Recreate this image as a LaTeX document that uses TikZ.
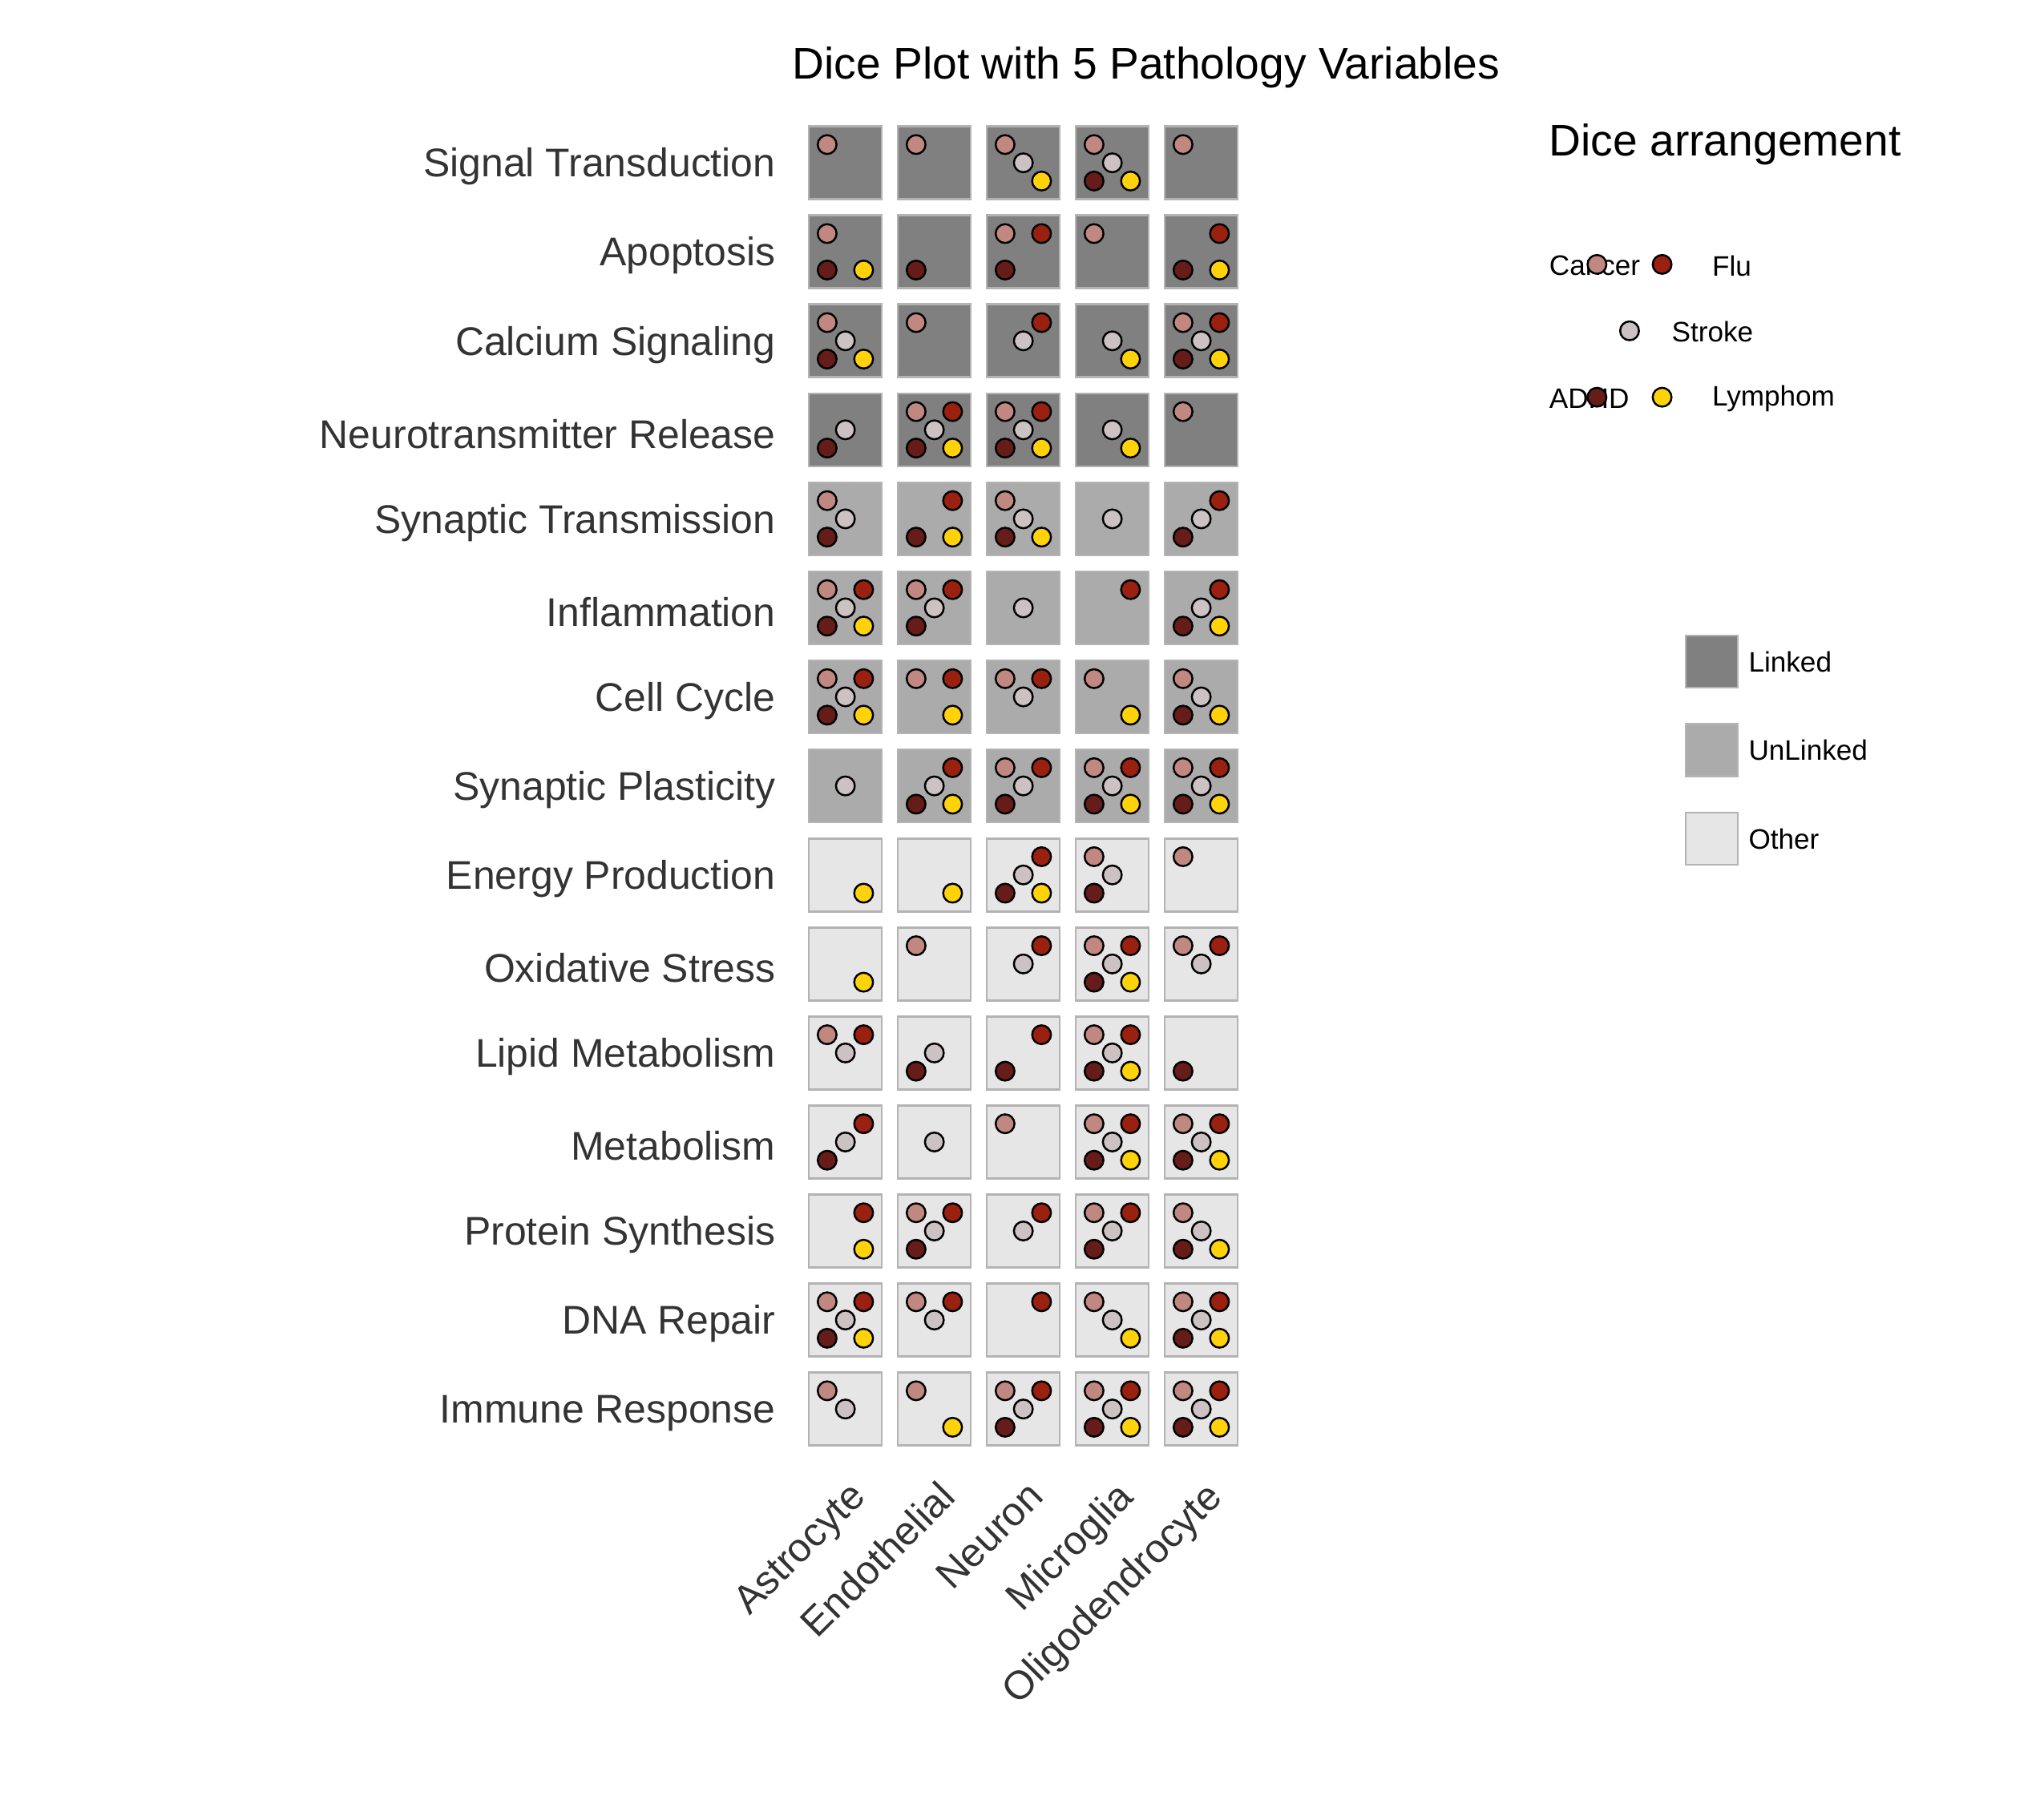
\documentclass[tikz,border=0pt]{standalone}
\usepackage{fontspec}
\setmainfont{Liberation Sans}
\definecolor{colC}{HTML}{C08880}
\definecolor{colF}{HTML}{9A2010}
\definecolor{colS}{HTML}{CCC2C4}
\definecolor{colA}{HTML}{661C18}
\definecolor{colL}{HTML}{FFD20A}
\definecolor{fillK}{HTML}{808080}
\definecolor{fillU}{HTML}{ABABAB}
\definecolor{fillO}{HTML}{E6E6E6}
\definecolor{tileedge}{HTML}{B3B3B3}
\def\dxC{-14}\def\dyC{-14}
\def\dxF{14}\def\dyF{-14}
\def\dxS{0}\def\dyS{0}
\def\dxA{-14}\def\dyA{14}
\def\dxL{14}\def\dyL{14}
\tikzset{
  tile/.style={draw=tileedge, line width=0.75pt, minimum size=0.91cm, inner sep=0pt},
  dotn/.style={circle, draw=black, line width=0.7pt, minimum size=0.235cm, inner sep=0pt},
  rowlab/.style={anchor=east, font=\fontsize{14.2}{16}\selectfont, text=black!80},
  collab/.style={anchor=north east, rotate=45, font=\fontsize{14.2}{16}\selectfont, text=black!80, inner sep=1pt},
  legtxt/.style={anchor=west, font=\fontsize{10}{12}\selectfont, inner sep=0pt}
}
\newcommand\dicecell[4]{%
  \node[tile, fill=fill#3] (t#1-#2) at ({649+68.3*(#1-1)},{125+68.35*(#2-1)}) {};
  \foreach \d in {#4}{\path (t#1-#2) ++(\csname dx\d\endcsname,\csname dy\d\endcsname) node[dotn, fill=col\d] (d#1-#2\d) {};}%
}
\begin{document}
\begin{tikzpicture}[x=0.01625cm, y=-0.01625cm]
\useasboundingbox (0,0) rectangle (1569.2,1384.6);
\node[font=\fontsize{15.7}{18}\selectfont] (title) at (880,52) {Dice Plot with 5 Pathology Variables};
\foreach \n/\lab in {1/Signal Transduction,2/Apoptosis,3/Calcium Signaling,4/Neurotransmitter Release,5/Synaptic Transmission,6/Inflammation,7/Cell Cycle,8/Synaptic Plasticity,9/Energy Production,10/Oxidative Stress,11/Lipid Metabolism,12/Metabolism,13/Protein Synthesis,14/DNA Repair,15/Immune Response}
  \node[rowlab] (r\n) at (603,{128+68.35*(\n-1)}) {\lab};
\foreach \n/\lab in {1/Astrocyte,2/Endothelial,3/Neuron,4/Microglia,5/Oligodendrocyte}
  \node[collab] (c\n) at ({649+68.3*(\n-1)+2},1132) {\lab};
\dicecell{1}{1}{K}{C}\dicecell{2}{1}{K}{C}\dicecell{3}{1}{K}{C,S,L}\dicecell{4}{1}{K}{C,S,A,L}\dicecell{5}{1}{K}{C}
\dicecell{1}{2}{K}{C,A,L}\dicecell{2}{2}{K}{A}\dicecell{3}{2}{K}{C,F,A}\dicecell{4}{2}{K}{C}\dicecell{5}{2}{K}{F,A,L}
\dicecell{1}{3}{K}{C,S,A,L}\dicecell{2}{3}{K}{C}\dicecell{3}{3}{K}{F,S}\dicecell{4}{3}{K}{S,L}\dicecell{5}{3}{K}{C,F,S,A,L}
\dicecell{1}{4}{K}{S,A}\dicecell{2}{4}{K}{C,F,S,A,L}\dicecell{3}{4}{K}{C,F,S,A,L}\dicecell{4}{4}{K}{S,L}\dicecell{5}{4}{K}{C}
\dicecell{1}{5}{U}{C,S,A}\dicecell{2}{5}{U}{F,A,L}\dicecell{3}{5}{U}{C,S,A,L}\dicecell{4}{5}{U}{S}\dicecell{5}{5}{U}{F,S,A}
\dicecell{1}{6}{U}{C,F,S,A,L}\dicecell{2}{6}{U}{C,F,S,A}\dicecell{3}{6}{U}{S}\dicecell{4}{6}{U}{F}\dicecell{5}{6}{U}{F,S,A,L}
\dicecell{1}{7}{U}{C,F,S,A,L}\dicecell{2}{7}{U}{C,F,L}\dicecell{3}{7}{U}{C,F,S}\dicecell{4}{7}{U}{C,L}\dicecell{5}{7}{U}{C,S,A,L}
\dicecell{1}{8}{U}{S}\dicecell{2}{8}{U}{F,S,A,L}\dicecell{3}{8}{U}{C,F,S,A}\dicecell{4}{8}{U}{C,F,S,A,L}\dicecell{5}{8}{U}{C,F,S,A,L}
\dicecell{1}{9}{O}{L}\dicecell{2}{9}{O}{L}\dicecell{3}{9}{O}{F,S,A,L}\dicecell{4}{9}{O}{C,S,A}\dicecell{5}{9}{O}{C}
\dicecell{1}{10}{O}{L}\dicecell{2}{10}{O}{C}\dicecell{3}{10}{O}{F,S}\dicecell{4}{10}{O}{C,F,S,A,L}\dicecell{5}{10}{O}{C,F,S}
\dicecell{1}{11}{O}{C,F,S}\dicecell{2}{11}{O}{S,A}\dicecell{3}{11}{O}{F,A}\dicecell{4}{11}{O}{C,F,S,A,L}\dicecell{5}{11}{O}{A}
\dicecell{1}{12}{O}{F,S,A}\dicecell{2}{12}{O}{S}\dicecell{3}{12}{O}{C}\dicecell{4}{12}{O}{C,F,S,A,L}\dicecell{5}{12}{O}{C,F,S,A,L}
\dicecell{1}{13}{O}{F,L}\dicecell{2}{13}{O}{C,F,S,A}\dicecell{3}{13}{O}{F,S}\dicecell{4}{13}{O}{C,F,S,A}\dicecell{5}{13}{O}{C,S,A,L}
\dicecell{1}{14}{O}{C,F,S,A,L}\dicecell{2}{14}{O}{C,F,S}\dicecell{3}{14}{O}{F}\dicecell{4}{14}{O}{C,S,L}\dicecell{5}{14}{O}{C,F,S,A,L}
\dicecell{1}{15}{O}{C,S}\dicecell{2}{15}{O}{C,L}\dicecell{3}{15}{O}{C,F,S,A}\dicecell{4}{15}{O}{C,F,S,A,L}\dicecell{5}{15}{O}{C,F,S,A,L}
\node[anchor=west, font=\fontsize{15.7}{18}\selectfont, inner sep=0pt] (legtitle) at (1189,111) {Dice arrangement};
\node[legtxt] (lC) at (1189,204) {Cancer};
\node[legtxt] (lF) at (1314,204) {Flu};
\node[legtxt] (lS) at (1283,255) {Stroke};
\node[legtxt] (lA) at (1189,306) {ADHD};
\node[legtxt] (lL) at (1314,306) {Lymphom};
\node[dotn, fill=colC] (gC) at (1226,203) {};
\node[dotn, fill=colF] (gF) at (1276,203) {};
\node[dotn, fill=colS] (gS) at (1251,254) {};
\node[dotn, fill=colA] (gA) at (1226,305) {};
\node[dotn, fill=colL] (gL) at (1276,305) {};
\foreach \n/\f/\lab/\y in {1/K/Linked/508,2/U/UnLinked/576,3/O/Other/644}{
  \node[tile, fill=fill\f, minimum size=0.65cm] (k\n) at (1314,\y) {};
  \node[legtxt] (kl\n) at (1342,\y) {\lab};
}
\end{tikzpicture}
\end{document}
